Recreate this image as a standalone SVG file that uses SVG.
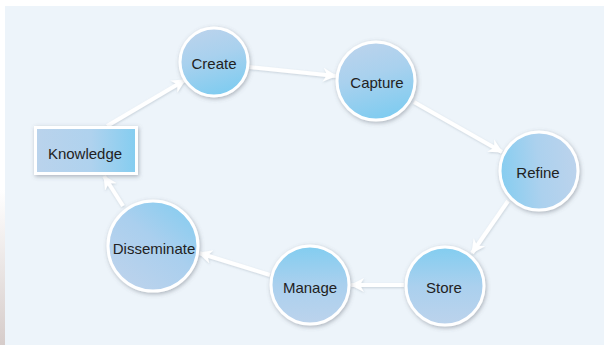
<svg xmlns="http://www.w3.org/2000/svg" width="604" height="345" viewBox="0 0 604 345">
  <defs>
    <linearGradient id="edge" x1="0" y1="0" x2="0" y2="1">
      <stop offset="0.55" stop-color="#FFFFFF"/>
      <stop offset="1" stop-color="#D6CCCA"/>
    </linearGradient>
    <linearGradient id="gDown" x1="0.2" y1="0" x2="0.5" y2="1">
      <stop offset="0" stop-color="#BCD3EC"/>
      <stop offset="0.45" stop-color="#A9D1EE"/>
      <stop offset="1" stop-color="#80CCF0"/>
    </linearGradient>
    <linearGradient id="gUp" x1="0.5" y1="0" x2="0.5" y2="1">
      <stop offset="0" stop-color="#82CDF0"/>
      <stop offset="0.5" stop-color="#AAD0EE"/>
      <stop offset="1" stop-color="#BCD3EC"/>
    </linearGradient>
    <linearGradient id="gLeft" x1="0" y1="0.5" x2="1" y2="0.4">
      <stop offset="0" stop-color="#86CDF0"/>
      <stop offset="0.5" stop-color="#ACD1EE"/>
      <stop offset="1" stop-color="#BCD3EC"/>
    </linearGradient>
    <linearGradient id="gDiag" x1="1" y1="0" x2="0.2" y2="1">
      <stop offset="0" stop-color="#7FCCF0"/>
      <stop offset="0.5" stop-color="#AACFEE"/>
      <stop offset="1" stop-color="#BDD3EC"/>
    </linearGradient>
    <linearGradient id="gRight" x1="0" y1="0.5" x2="1" y2="0.5">
      <stop offset="0" stop-color="#BAD3EC"/>
      <stop offset="0.55" stop-color="#AFD2EE"/>
      <stop offset="1" stop-color="#84CDF0"/>
    </linearGradient>
    <filter id="sh" x="-30%" y="-30%" width="160%" height="160%">
      <feDropShadow dx="1" dy="1.5" stdDeviation="2" flood-color="#5A6470" flood-opacity="0.45"/>
    </filter>
    <filter id="ash" x="-20%" y="-20%" width="140%" height="140%">
      <feDropShadow dx="0.5" dy="1" stdDeviation="1" flood-color="#8090A0" flood-opacity="0.35"/>
    </filter>
    <marker id="arr" markerUnits="userSpaceOnUse" markerWidth="16" markerHeight="16" viewBox="0 0 16 16" refX="13" refY="8" orient="auto">
      <path d="M0,1 L14,8 L0,15 L4,8 z" fill="#FFFFFF"/>
    </marker>
    <style>
      .node { stroke: #FFFFFF; stroke-width: 3; filter: url(#sh); }
      .lbl { font-family: "Liberation Sans", Arial, sans-serif; font-size: 15px; fill: #222222; text-anchor: middle; }
      .conn { stroke: #FFFFFF; stroke-width: 4; fill: none; marker-end: url(#arr); }
    </style>
  </defs>

  <rect x="0" y="0" width="604" height="345" fill="#FFFFFF"/>
  <rect x="0" y="0" width="5" height="345" fill="url(#edge)"/>
  <rect x="5" y="6" width="599" height="339" fill="#EDF4FA"/>

  <g id="connectors" filter="url(#ash)">
    <line class="conn" x1="107" y1="126" x2="185" y2="80"/>
    <line class="conn" x1="249" y1="67" x2="336" y2="76"/>
    <line class="conn" x1="414" y1="102" x2="502" y2="152"/>
    <line class="conn" x1="508" y1="201" x2="472" y2="253"/>
    <line class="conn" x1="404" y1="285" x2="351" y2="285"/>
    <line class="conn" x1="270" y1="275" x2="199" y2="253"/>
    <line class="conn" x1="123" y1="206" x2="104" y2="176"/>
  </g>

  <g id="knowledge">
    <rect class="node" x="35.5" y="127.5" width="101" height="46" fill="url(#gRight)"/>
    <text class="lbl" x="85" y="159">Knowledge</text>
  </g>
  <g id="create">
    <circle class="node" cx="214" cy="62" r="34" fill="url(#gDown)"/>
    <text class="lbl" x="214" y="69">Create</text>
  </g>
  <g id="capture">
    <circle class="node" cx="376" cy="81" r="39" fill="url(#gDown)"/>
    <text class="lbl" x="377" y="88">Capture</text>
  </g>
  <g id="refine">
    <circle class="node" cx="539" cy="171" r="39" fill="url(#gLeft)"/>
    <text class="lbl" x="538" y="178">Refine</text>
  </g>
  <g id="store">
    <circle class="node" cx="445" cy="286" r="39" fill="url(#gUp)"/>
    <text class="lbl" x="444" y="293">Store</text>
  </g>
  <g id="manage">
    <circle class="node" cx="310" cy="285" r="39" fill="url(#gUp)"/>
    <text class="lbl" x="310" y="293">Manage</text>
  </g>
  <g id="disseminate">
    <circle class="node" cx="153" cy="246" r="45" fill="url(#gDiag)"/>
    <text class="lbl" x="154" y="254">Disseminate</text>
  </g>
</svg>
